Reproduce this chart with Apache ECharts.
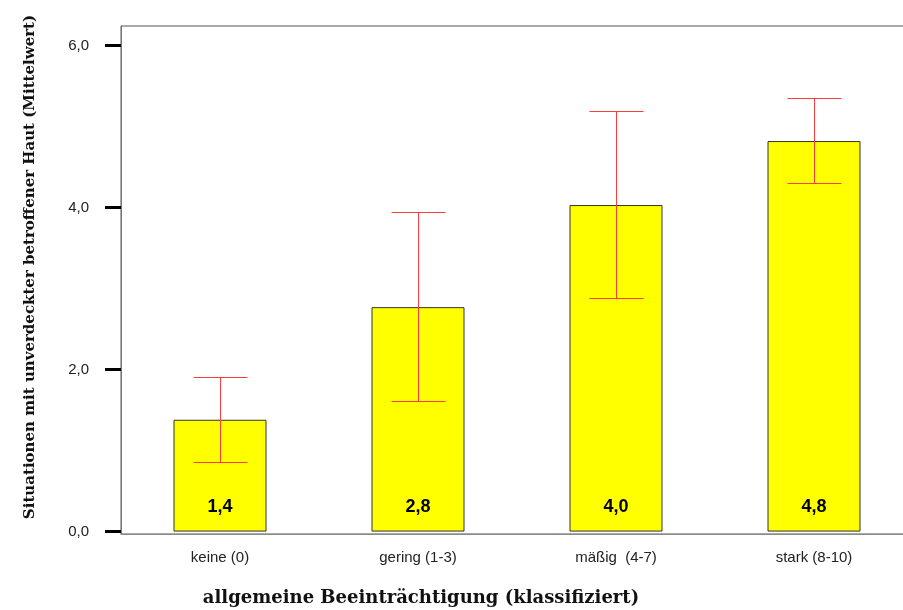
<!DOCTYPE html>
<html>
<head>
<meta charset="utf-8">
<script src="https://cdn.jsdelivr.net/npm/echarts@6/dist/echarts.min.js"></script>
<style>
  html, body { margin: 0; padding: 0; background: #fff; overflow: hidden; }
  /* the plot frame continues past the right edge of the window */
  #chart { width: 914px; height: 610px; }
</style>
</head>
<body>
<div id="chart"></div>
<script>
// Mean number of situations with uncovered affected skin, by impairment class
var categories = ['keine (0)', 'gering (1-3)', 'mäßig  (4-7)', 'stark (8-10)'];
var means = [1.38, 2.77, 4.03, 4.82];
// Error bar limits
var lowerLimits = [0.85, 1.60, 2.88, 4.30];
var upperLimits = [1.90, 3.94, 5.19, 5.34];
// Value axis tick labels
var yTicks = [0, 2, 4, 6];

var xTitle = 'allgemeine Beeinträchtigung (klassifiziert)';
var yTitle = 'Situationen mit unverdeckter betroffener Haut (Mittelwert)';

function deComma(v) {
  return Number(v).toFixed(1).replace('.', ',');
}

// snap a coordinate to the pixel centre so 1px lines stay crisp
function crisp(v) {
  return Math.round(v - 0.5) + 0.5;
}

var errorData = categories.map(function (c, i) {
  return [i, lowerLimits[i], upperLimits[i]];
});

var chart = echarts.init(document.getElementById('chart'), null, { renderer: 'canvas' });

chart.setOption({
  animation: false,
  backgroundColor: '#ffffff',
  grid: {
    left: 121,
    top: 26,
    width: 792,
    height: 508,
    show: true,
    borderColor: '#555555',
    borderWidth: 1,
    backgroundColor: 'transparent'
  },
  xAxis: {
    type: 'category',
    data: categories,
    axisLine: { onZero: false, lineStyle: { color: '#8a8a8a', width: 1 } },
    axisTick: {
      alignWithLabel: true,
      length: 10,
      lineStyle: { color: '#000000', width: 5 }
    },
    axisLabel: {
      margin: 16,
      fontFamily: 'Liberation Sans, Arial, sans-serif',
      fontSize: 15,
      color: '#222222'
    }
  },
  yAxis: {
    type: 'value',
    min: -0.03,
    max: 6.24,
    splitLine: { show: false },
    axisLine: { show: true, lineStyle: { color: '#777777', width: 1 } },
    axisTick: {
      show: true,
      length: 16,
      customValues: yTicks,
      lineStyle: { color: '#000000', width: 3 }
    },
    axisLabel: {
      margin: 32,
      customValues: yTicks,
      fontFamily: 'Liberation Sans, Arial, sans-serif',
      fontSize: 15,
      color: '#222222',
      formatter: function (v) { return deComma(v); }
    }
  },
  graphic: [
    {
      type: 'text',
      x: 421,
      y: 598,
      style: {
        text: xTitle,
        x: 0,
        y: 0,
        align: 'center',
        verticalAlign: 'middle',
        font: 'bold 18px "DejaVu Serif", serif',
        fill: '#111111'
      }
    },
    {
      type: 'text',
      x: 30,
      y: 267,
      rotation: Math.PI / 2,
      style: {
        text: yTitle,
        x: 0,
        y: 0,
        align: 'center',
        verticalAlign: 'middle',
        font: 'bold 15px "DejaVu Serif", serif',
        fill: '#111111'
      }
    }
  ],
  series: [
    {
      type: 'bar',
      data: means,
      barWidth: 93,
      itemStyle: {
        color: '#ffff00',
        borderColor: '#333333',
        borderWidth: 1
      },
      label: {
        show: true,
        position: 'insideBottom',
        distance: 16,
        fontFamily: 'Liberation Sans, Arial, sans-serif',
        fontWeight: 'bold',
        fontSize: 18,
        color: '#000000',
        formatter: function (p) { return deComma(p.value); }
      },
      z: 2
    },
    {
      type: 'custom',
      data: errorData,
      z: 5,
      renderItem: function (params, api) {
        var idx = api.value(0);
        var lo = api.coord([idx, api.value(1)]);
        var hi = api.coord([idx, api.value(2)]);
        var cx = crisp(hi[0]);
        var yHi = crisp(hi[1]);
        var yLo = crisp(lo[1]);
        var half = 27;
        var style = { stroke: '#ff3c3c', lineWidth: 1 };
        return {
          type: 'group',
          children: [
            { type: 'line', shape: { x1: cx, y1: yHi, x2: cx, y2: yLo }, style: style },
            { type: 'line', shape: { x1: cx - half, y1: yHi, x2: cx + half, y2: yHi }, style: style },
            { type: 'line', shape: { x1: cx - half, y1: yLo, x2: cx + half, y2: yLo }, style: style }
          ]
        };
      }
    }
  ]
});
</script>
</body>
</html>
